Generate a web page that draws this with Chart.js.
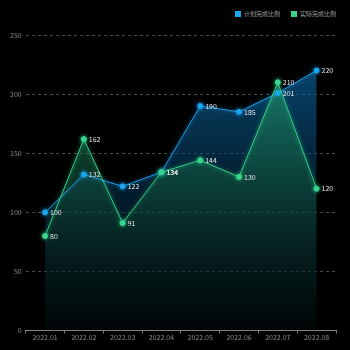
<!DOCTYPE html>
<html><head><meta charset="utf-8">
<script src="https://cdn.jsdelivr.net/npm/chart.js@4"></script>
<style>html,body{margin:0;padding:0;background:#000;}#wrap{width:350px;height:350px;}</style>
</head><body><div id="wrap"><canvas id="c" width="350" height="350"></canvas></div>
<script>
const categories = ['2022.01','2022.02','2022.03','2022.04','2022.05','2022.06','2022.07','2022.08'];
const planValues = [100,132,122,134,190,185,201,220];
const actualValues = [80,162,91,134,144,130,210,120];
const seriesNames = ['计划完成比例','实际完成比例'];
const seriesColors = ['#1aa6f0','#36d68e'];
const yTicks = [0,50,100,150,200,250];

const FONT = '"Noto Sans CJK SC", "Noto Sans", sans-serif';

function grad(ctx, chart, top, bottom){
  const a = chart.chartArea;
  if(!a) return top;
  const g = ctx.createLinearGradient(0, a.top, 0, a.bottom);
  g.addColorStop(0, top);
  g.addColorStop(1, bottom);
  return g;
}

const labelPlugin = {
  id: 'pointLabels',
  afterDatasetsDraw(chart){
    const ctx = chart.ctx;
    ctx.save();
    ctx.font = '7px ' + FONT;
    ctx.fillStyle = '#e8e8e8';
    ctx.textBaseline = 'middle';
    ctx.textAlign = 'left';
    chart.data.datasets.forEach((ds, i) => {
      const meta = chart.getDatasetMeta(i);
      meta.data.forEach((pt, j) => {
        ctx.fillText(String(ds.data[j]), pt.x + 5, pt.y);
      });
    });
    ctx.restore();
  }
};

const glowPlugin = {
  id: 'glow',
  beforeDatasetDraw(chart, args){
    const ctx = chart.ctx;
    ctx.save();
    ctx.shadowColor = args.index === 0 ? 'rgba(30,160,240,0.8)' : 'rgba(60,220,140,0.8)';
    ctx.shadowBlur = 4;
  },
  afterDatasetDraw(chart){
    chart.ctx.restore();
  }
};

const legendTweak = {
  id: 'legendTweak',
  beforeInit(chart){
    const lg = chart.legend;
    if(!lg) return;
    const fit = lg.fit;
    lg.fit = function(){ fit.call(this); this.height += 8; };
  }
};

new Chart(document.getElementById('c'), {
  type: 'line',
  data: {
    labels: categories,
    datasets: [
      {
        label: seriesNames[0],
        data: planValues,
        borderColor: '#1a9fe6',
        backgroundColor: (c) => grad(c.chart.ctx, c.chart, 'rgba(12,110,175,0.75)', 'rgba(0,20,30,0.2)'),
        pointBackgroundColor: seriesColors[0],
        pointBorderColor: seriesColors[0],
        pointRadius: 2.5,
        borderWidth: 1,
        fill: 'origin',
        tension: 0,
        order: 1
      },
      {
        label: seriesNames[1],
        data: actualValues,
        borderColor: '#2fce86',
        backgroundColor: (c) => grad(c.chart.ctx, c.chart, 'rgba(36,170,120,0.75)', 'rgba(0,10,8,0.3)'),
        pointBackgroundColor: seriesColors[1],
        pointBorderColor: seriesColors[1],
        pointRadius: 2.5,
        borderWidth: 1,
        fill: 'origin',
        tension: 0,
        order: 0
      }
    ]
  },
  options: {
    responsive: false,
    animation: false,
    devicePixelRatio: 1,
    layout: { padding: { left: 6, right: 3, top: 0, bottom: 8 } },
    plugins: {
      filler: { drawTime: 'beforeDatasetsDraw' },
      legend: {
        position: 'top',
        align: 'end',
        labels: {
          boxWidth: 6, boxHeight: 6, padding: 11,
          color: '#a0a0a0',
          font: { size: 6, family: FONT },
          sort: (a, b) => a.datasetIndex - b.datasetIndex,
          generateLabels: (chart) => chart.data.datasets.map((ds, i) => ({
            text: ds.label,
            fillStyle: seriesColors[i],
            strokeStyle: seriesColors[i],
            lineWidth: 0,
            fontColor: '#a0a0a0',
            hidden: !chart.isDatasetVisible(i),
            datasetIndex: i
          }))
        }
      },
      tooltip: { enabled: false }
    },
    scales: {
      x: {
        offset: true,
        grid: { display: true, drawOnChartArea: false, drawTicks: true, tickLength: 3, color: '#777', offset: true },
        border: { display: true, color: '#888', dash: [1, 2] },
        ticks: { color: '#8a8a8a', font: { size: 7, family: FONT }, padding: 0, maxRotation: 0 }
      },
      y: {
        min: 0, max: 250,
        afterBuildTicks: (axis) => { axis.ticks = yTicks.map(v => ({ value: v })); },
        grid: { color: '#4a4a4a', drawTicks: false },
        border: { display: false, dash: [3, 3] },
        ticks: { color: '#8a8a8a', font: { size: 7, family: FONT }, padding: 4 }
      },
      ySpacer: {
        type: 'linear',
        position: 'right',
        min: 0, max: 250,
        grid: { display: false, drawOnChartArea: false, drawTicks: false },
        border: { display: false },
        ticks: { display: false },
        afterFit: (s) => { s.width = 11; }
      }
    }
  },
  plugins: [legendTweak, glowPlugin, labelPlugin]
});
</script></body></html>
